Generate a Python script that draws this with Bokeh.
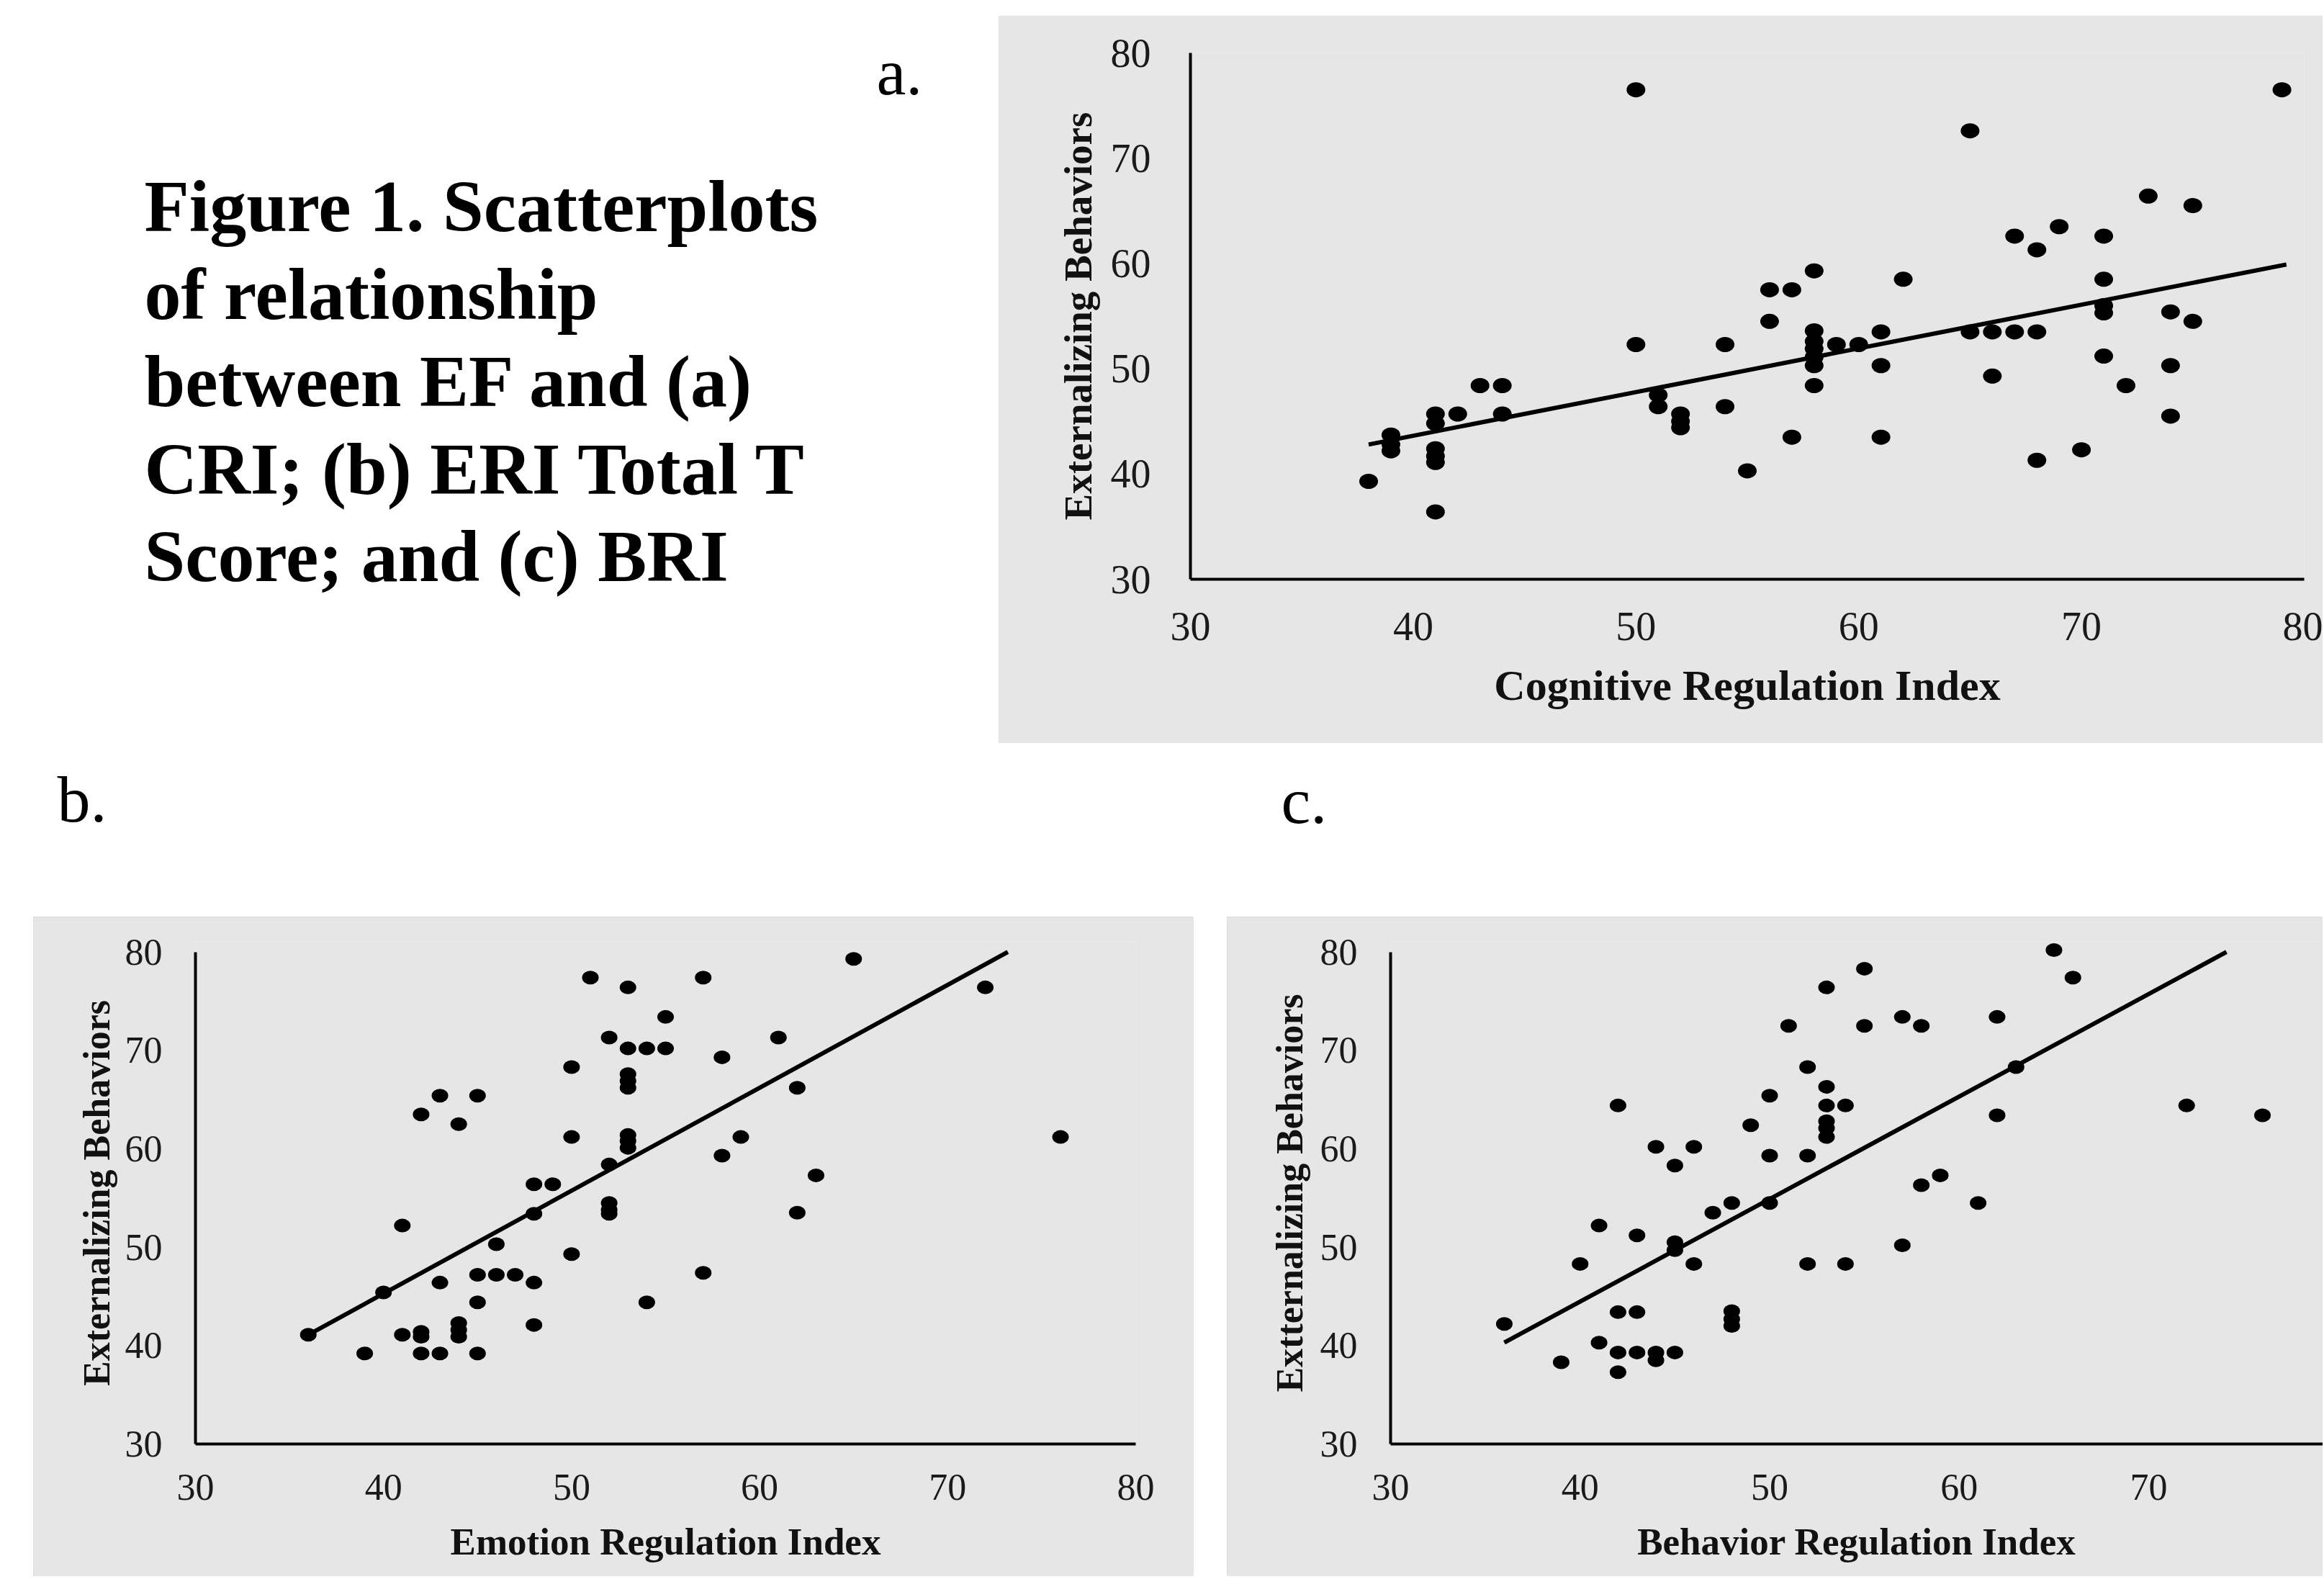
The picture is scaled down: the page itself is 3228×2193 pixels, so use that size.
from bokeh.plotting import figure
from bokeh.models import Range1d, FixedTicker, Spacer
from bokeh.layouts import column, row
from bokeh.core.properties import value
from bokeh.embed import file_html
from bokeh.resources import INLINE

SERIF = "Liberation Serif"
PANEL_BG = "#e6e6e6"

# ---------------- data ----------------
title_lines = ["Figure 1. Scatterplots", "of relationship", "between EF and (a)",
               "CRI; (b) ERI Total T", "Score; and (c) BRI"]
panel_tags = ["a.", "b.", "c."]
tick_values = [30, 40, 50, 60, 70, 80]
y_title_ab = "Externalizing Behaviors"
y_title_c = "Extternalizing Behaviors"
x_title_a = "Cognitive Regulation Index"
x_title_b = "Emotion Regulation Index"
x_title_c = "Behavior Regulation Index"

# (a) Cognitive Regulation Index vs Externalizing Behaviors
cri_x = [50, 79, 65, 73, 75, 69, 67, 71, 68,
         58, 62, 71, 56, 57, 56, 71, 71, 74, 75,
         58, 61, 65, 66, 67, 68,
         50, 54, 58, 59, 60, 58, 58, 58, 58,
         61, 66, 71, 74, 72,
         43, 44, 44, 42, 41, 41, 41, 41, 41, 41,
         39, 39, 39, 38,
         51, 51, 52, 52, 52, 54,
         57, 55, 61, 68, 70, 74]
cri_y = [76.5, 76.5, 72.6, 66.4, 65.5, 63.5, 62.6, 62.6, 61.3,
         59.3, 58.5, 58.5, 57.5, 57.5, 54.5, 56.0, 55.3, 55.4, 54.5,
         53.6, 53.5, 53.5, 53.5, 53.5, 53.5,
         52.3, 52.3, 52.6, 52.3, 52.3, 51.9, 51.1, 50.3, 48.4,
         50.3, 49.3, 51.2, 50.3, 48.4,
         48.4, 48.4, 45.7, 45.7, 45.7, 44.8, 42.4, 41.7, 41.1, 36.4,
         43.7, 42.8, 42.2, 39.3,
         47.5, 46.4, 45.7, 45.0, 44.4, 46.4,
         43.5, 40.3, 43.5, 41.3, 42.3, 45.5]
cri_fit_x = [38.0, 79.2]
cri_fit_y = [42.8, 59.9]

# (b) Emotion Regulation Index vs Externalizing Behaviors
eri_x = [65, 51, 57, 53, 72, 55, 52, 61,
         53, 54, 55, 58, 50, 53, 53, 53, 62,
         43, 45, 42, 44, 50, 53, 53, 53, 59, 76,
         58, 52, 63, 48, 49, 48, 52, 52, 52, 62,
         41, 46, 50, 45, 46, 47, 57, 43, 48,
         40, 45, 54, 48, 44, 44, 44, 41, 42, 42,
         36, 39, 42, 43, 45]
eri_y = [79.3, 77.4, 77.4, 76.4, 76.4, 73.4, 71.3, 71.3,
         70.2, 70.2, 70.2, 69.3, 68.3, 67.6, 66.9, 66.2, 66.2,
         65.4, 65.4, 63.5, 62.5, 61.2, 61.4, 60.8, 60.1, 61.2, 61.2,
         59.3, 58.4, 57.3, 56.4, 56.4, 53.4, 54.5, 53.8, 53.4, 53.5,
         52.2, 50.3, 49.3, 47.2, 47.2, 47.2, 47.4, 46.4, 46.4,
         45.4, 44.4, 44.4, 42.1, 42.3, 41.6, 40.9, 41.1, 41.4, 40.9,
         41.1, 39.2, 39.2, 39.2, 39.2]
eri_fit_x = [36.0, 73.2]
eri_fit_y = [41.1, 80.0]

# (c) Behavior Regulation Index vs Externalizing Behaviors
bri_x = [65, 55, 66, 53, 51, 55, 57, 58, 62,
         63, 52, 53, 50, 42, 53, 54, 72, 76, 62,
         49, 53, 53, 53, 44, 46, 50, 52, 45,
         59, 58, 47, 48, 50, 61, 41, 43, 45, 45,
         57, 40, 46, 52, 54, 42, 43, 48, 48, 48,
         36, 41, 42, 43, 44, 44, 45, 39, 42]
bri_y = [80.2, 78.3, 77.4, 76.4, 72.5, 72.5, 73.4, 72.5, 73.4,
         68.3, 68.3, 66.3, 65.4, 64.4, 64.4, 64.4, 64.4, 63.4, 63.4,
         62.4, 62.8, 62.1, 61.2, 60.2, 60.2, 59.3, 59.3, 58.3,
         57.3, 56.3, 53.5, 54.5, 54.5, 54.5, 52.2, 51.2, 50.5, 49.7,
         50.2, 48.3, 48.3, 48.3, 48.3, 43.4, 43.4, 43.5, 42.7, 42.0,
         42.2, 40.3, 39.3, 39.3, 39.3, 38.5, 39.3, 38.3, 37.3]
bri_fit_x = [36.0, 74.1]
bri_fit_y = [40.3, 80.0]


# ---------------- helpers ----------------
def text_canvas(w, h):
    p = figure(width=w, height=h, x_range=Range1d(0, w), y_range=Range1d(h, 0),
               x_axis_location=None, y_axis_location=None, toolbar_location=None,
               output_backend="svg", min_border=0)
    p.frame_align = False
    p.grid.visible = False
    p.outline_line_color = None
    p.background_fill_color = "white"
    p.border_fill_color = "white"
    return p


def scatter_panel(w, h, xr, yr, borders, xs, ys, fx, fy, xtitle, ytitle, dot,
                  tick_size, xt_size, yt_size, x_std, xt_std, y_std, yt_std):
    p = figure(width=w, height=h, x_range=Range1d(*xr), y_range=Range1d(*yr),
               toolbar_location=None, output_backend="svg",
               min_border_left=borders[0], min_border_right=borders[1],
               min_border_top=borders[2], min_border_bottom=borders[3])
    p.frame_align = False
    p.background_fill_color = PANEL_BG
    p.border_fill_color = PANEL_BG
    p.outline_line_color = None
    p.grid.visible = False
    for ax in (p.xaxis[0], p.yaxis[0]):
        ax.ticker = FixedTicker(ticks=tick_values)
        ax.bounds = (30, 80)
        ax.axis_line_color = "black"
        ax.axis_line_width = 4
        ax.major_tick_line_color = None
        ax.minor_tick_line_color = None
        ax.major_tick_in = 0
        ax.major_tick_out = 0
        ax.minor_tick_in = 0
        ax.minor_tick_out = 0
        ax.major_label_text_font = SERIF
        ax.major_label_text_font_size = f"{tick_size}px"
        ax.major_label_text_color = "#1a1a1a"
        ax.axis_label_text_font = SERIF
        ax.axis_label_text_font_style = "bold"
        ax.axis_label_text_color = "#111111"
    p.xaxis.axis_label = xtitle
    p.yaxis.axis_label = ytitle
    p.xaxis.axis_label_text_font_size = f"{xt_size}px"
    p.yaxis.axis_label_text_font_size = f"{yt_size}px"
    p.xaxis.major_label_standoff = x_std
    p.xaxis.axis_label_standoff = xt_std
    p.yaxis.major_label_standoff = y_std
    p.yaxis.axis_label_standoff = yt_std

    p.line(fx, fy, line_color="black", line_width=6)
    p.ellipse(x=xs, y=ys, width=dot[0], height=dot[1],
              width_units="screen", height_units="screen",
              fill_color="black", line_color=None)
    return p


# ---------------- figures ----------------
TITLE_PX = 102
TAG_PX = 92
title_fig = text_canvas(1386, 1011)
title_fig.text(x=[200] * len(title_lines),
               y=[299 - 0.33 * TITLE_PX + i * 121.5 for i in range(len(title_lines))],
               text=title_lines, text_font=value(SERIF), text_font_style="bold",
               text_font_size=f"{TITLE_PX}px", text_baseline="alphabetic",
               text_align="left", text_color="black")
title_fig.text(x=[1217], y=[109 - 0.33 * TAG_PX], text=[panel_tags[0]], text_font=value(SERIF),
               text_font_size=f"{TAG_PX}px", text_baseline="alphabetic",
               text_align="left", text_color="black")

mid_fig = text_canvas(3226, 241)
mid_fig.text(x=[79, 1779], y=[108 - 0.33 * TAG_PX, 110 - 0.33 * TAG_PX], text=panel_tags[1:],
             text_font=value(SERIF), text_font_size=f"{TAG_PX}px", text_baseline="alphabetic",
             text_align="left", text_color="black")

pa = scatter_panel(1840, 1011, (30, 80), (30, 80), (267, 26, 52, 228),
                   cri_x, cri_y, cri_fit_x, cri_fit_y, x_title_a, y_title_ab, (26, 21),
                   56, 60, 55, 46, 27, 55, 12)

pb = scatter_panel(1612, 916, (30, 80), (30, 81), (225, 81, 35, 184),
                   eri_x, eri_y, eri_fit_x, eri_fit_y, x_title_b, y_title_ab, (23, 19),
                   52, 53, 52, 42, 26, 46, 8)
pb.styles = {"outline": "4px solid #d9d9d9", "outline-offset": "-4px"}

pc = scatter_panel(1522, 916, (30, 79.19), (30, 81), (227, 0, 35, 184),
                   bri_x, bri_y, bri_fit_x, bri_fit_y, x_title_c, y_title_c, (23, 19),
                   52, 53, 52, 42, 26, 46, 11)
pc.styles = {"outline": "4px solid #d9d9d9", "outline-offset": "-4px"}

layout = column(
    Spacer(width=3226, height=21),
    row(title_fig, pa),
    mid_fig,
    row(Spacer(width=46, height=916), pb, Spacer(width=46, height=916), pc),
)

open("out.html", "w").write(file_html(layout, INLINE))
